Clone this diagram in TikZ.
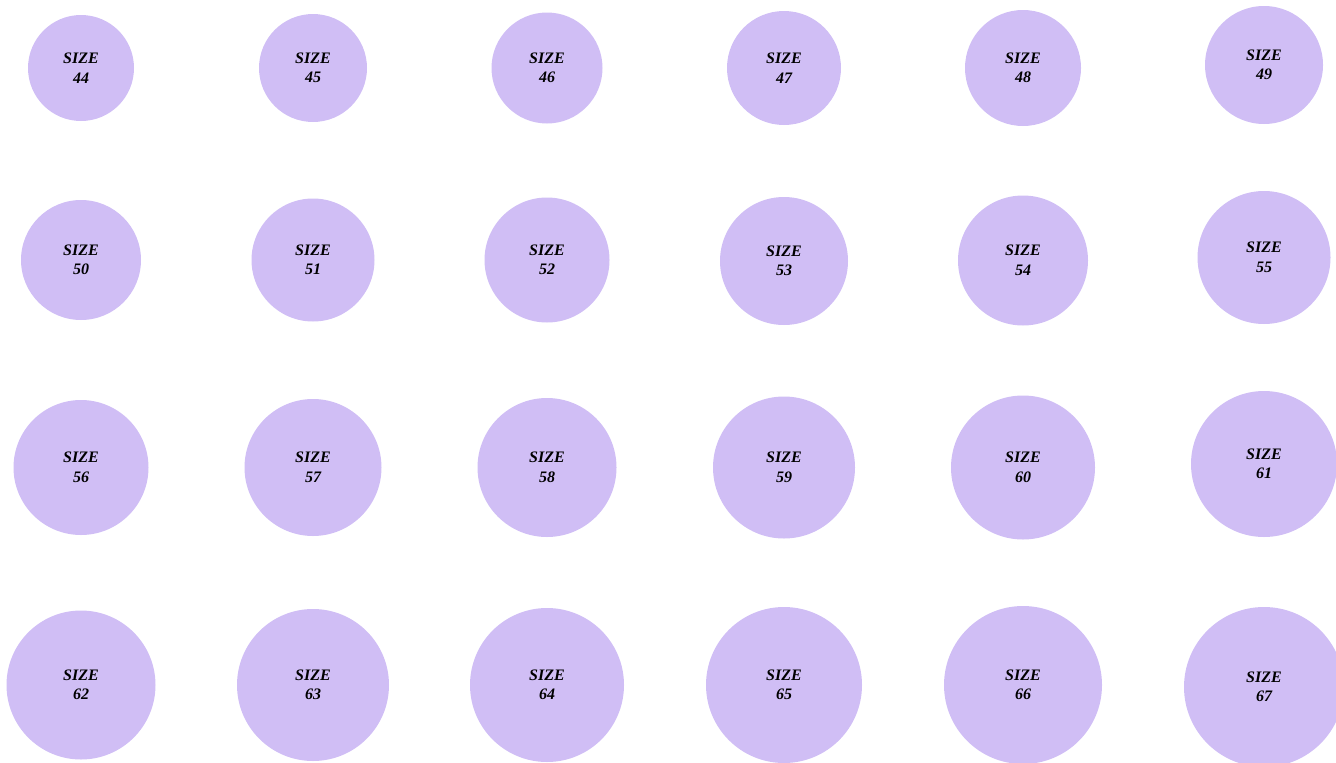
\documentclass[tikz,border=0pt]{standalone}
\usepackage{fontspec}
\setmainfont{Liberation Serif}
\definecolor{lav}{RGB}{208,190,245}
\begin{document}
\begin{tikzpicture}[x=1pt,y=-1pt,
  ring/.style={circle,fill=lav,draw=none,inner sep=0pt,align=center,
    font=\fontsize{16}{19.5}\selectfont\bfseries\itshape}]
\useasboundingbox (0,0) rectangle (1336,763);
\clip (0,0) rectangle (1336,763);
\foreach \n/\x/\y/\r in {
  44/81/68/53, 45/313/68/54, 46/547/68/55.5, 47/784/68/57, 48/1023/68/58, 49/1264/65/59,
  50/81/260/60, 51/313/260/61.5, 52/547/260/62.5, 53/784/261/64, 54/1023/260.5/65, 55/1264/257.5/66.5,
  56/81/467.5/67.5, 57/313/467.5/68.5, 58/547/467.5/69.5, 59/784/467.5/71, 60/1023/467.5/72, 61/1264/464/73,
  62/81/685/74.5, 63/313/685/76, 64/547/685/77, 65/784/685/78, 66/1023/685/79, 67/1264/687/80}
{
  \node[ring,minimum size=2*\r] (c\n) at (\x,\y) {\raisebox{-1pt}{SIZE}\\\raisebox{-1pt}{\n}};
}
\end{tikzpicture}
\end{document}
